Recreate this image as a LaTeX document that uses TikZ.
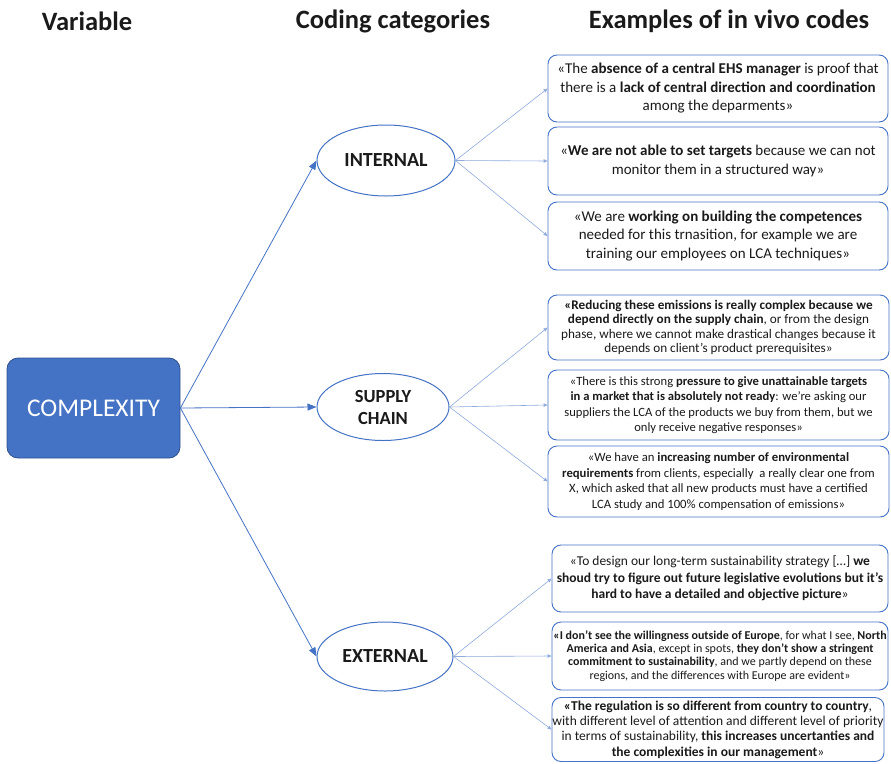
\documentclass[tikz,border=0pt]{standalone}
\usepackage{fontspec}
\setmainfont{Carlito}
\usetikzlibrary{arrows.meta,shapes.geometric}
\definecolor{cblue}{HTML}{4472C4}
\definecolor{cborder}{HTML}{2F528F}
\definecolor{lblue}{HTML}{8FAADC}
\definecolor{txt}{HTML}{1A1A1A}
\tikzset{
  heading/.style={font=\fontsize{26.5}{30}\selectfont\bfseries, text=txt, inner sep=0},
  quotebox/.style={draw=cblue, line width=0.9pt, rounded corners=9pt, fill=white, align=center, inner sep=0, text=txt},
  category/.style={ellipse, draw=cblue, line width=1pt, fill=white, inner sep=0, align=center, font=\fontsize{20}{22}\selectfont\bfseries, text=txt},
  mainlink/.style={draw=cblue, line width=0.8pt, -{Triangle[length=9pt,width=7pt]}},
  sublink/.style={draw=lblue, line width=0.6pt, -{Triangle[length=4pt,width=3.5pt]}}
}
\begin{document}
\begin{tikzpicture}[x=1pt,y=1pt]
\useasboundingbox (0,0) rectangle (891,-763);

% headings
\node[heading] (h1) at (87,-21) {Variable};
\node[heading] (h2) at (393,-21) {Coding categories};
\node[heading] (h3) at (729,-21) {Examples of in vivo codes};

% variable
\node[draw=cborder, fill=cblue, line width=0.8pt, rounded corners=11pt, minimum width=173pt, minimum height=100pt, inner sep=0, text=white, font=\fontsize{25.5}{28}\selectfont] (cx) at (93.5,-408) {COMPLEXITY};

% categories
\node[category, minimum width=138pt, minimum height=71pt] (int) at (386,-160.5) {INTERNAL};
\node[category, minimum width=132pt, minimum height=67pt, font=\fontsize{18.5}{22}\selectfont\bfseries] (sup) at (383,-407) {SUPPLY\\CHAIN};
\node[category, minimum width=136pt, minimum height=69pt] (ext) at (385,-656.5) {EXTERNAL};

% quotes - internal
\node[quotebox, minimum width=340pt, minimum height=67pt, font=\fontsize{15}{18.5}\selectfont] (b1) at (718,-88.5)
{«The \textbf{absence of a central EHS manager} is proof that\\there is a \textbf{lack of central direction and coordination}\\among the deparments»};
\node[quotebox, minimum width=340pt, minimum height=68pt, font=\fontsize{15}{18.5}\selectfont] (b2) at (718,-161)
{«\textbf{We are not able to set targets} because we can not\\monitor them in a structured way»};
\node[quotebox, minimum width=340pt, minimum height=68pt, font=\fontsize{15}{18.5}\selectfont] (b3) at (718,-236)
{«We are \textbf{working on building the competences}\\needed for this trnasition, for example we are\\training our employees on LCA techniques»};

% quotes - supply chain
\node[quotebox, minimum width=341pt, minimum height=65pt, font=\fontsize{13.2}{14.5}\selectfont] (b4) at (718.5,-327.5)
{\textbf{«Reducing these emissions is really complex because we}\\\textbf{depend directly on the supply chain}, or from the design\\phase, where we cannot make drastical changes because it\\depends on client’s product prerequisites»};
\node[quotebox, minimum width=341pt, minimum height=70pt, font=\fontsize{12.6}{15.5}\selectfont] (b5) at (718.5,-405)
{«There is this strong \textbf{pressure to give unattainable targets}\\\textbf{in a market that is absolutely not ready}: we’re asking our\\suppliers the LCA of the products we buy from them, but we\\only receive negative responses»};
\node[quotebox, minimum width=341pt, minimum height=71pt, font=\fontsize{12.7}{15.5}\selectfont] (b6) at (718.5,-481.5)
{«We have an \textbf{increasing number of environmental}\\\textbf{requirements} from clients, especially\ \ a really clear one from\\X, which asked that all new products must have a certified\\LCA study and 100\% compensation of emissions»};

% quotes - external
\node[quotebox, minimum width=336pt, minimum height=67pt, font=\fontsize{13.5}{16.5}\selectfont] (b7) at (720,-578.5)
{«To design our long-term sustainability strategy […] \textbf{we}\\\textbf{shoud try to figure out future legislative evolutions but it’s}\\\textbf{hard to have a detailed and objective picture}»};
\node[quotebox, minimum width=336pt, minimum height=68pt, font=\fontsize{12}{13.3}\selectfont] (b8) at (720,-656)
{\textbf{«I don't see the willingness outside of Europe}, for what I see, \textbf{North}\\\textbf{America and Asia}, except in spots, \textbf{they don't show a stringent}\\\textbf{commitment to sustainability}, and we partly depend on these\\regions, and the differences with Europe are evident»};
\node[quotebox, minimum width=332pt, minimum height=64pt, font=\fontsize{13.5}{15.3}\selectfont] (b9) at (718,-729.5)
{\textbf{«The regulation is so different from country to country},\\with different level of attention and different level of priority\\in terms of sustainability, \textbf{this increases uncertanties and}\\\textbf{the complexities in our management}»};

% main links
\draw[mainlink] (cx.east) -- (int.west);
\draw[mainlink] (cx.east) -- (sup.west);
\draw[mainlink] (cx.east) -- (ext.west);

% sub links
\draw[sublink] (int.east) -- (b1.west);
\draw[sublink] (int.east) -- (b2.west);
\draw[sublink] (int.east) -- (b3.west);
\draw[sublink] (sup.east) -- (b4.west);
\draw[sublink] (sup.east) -- (b5.west);
\draw[sublink] (sup.east) -- (b6.west);
\draw[sublink] (ext.east) -- (b7.west);
\draw[sublink] (ext.east) -- (b8.west);
\draw[sublink] (ext.east) -- (b9.west);
\end{tikzpicture}
\end{document}
